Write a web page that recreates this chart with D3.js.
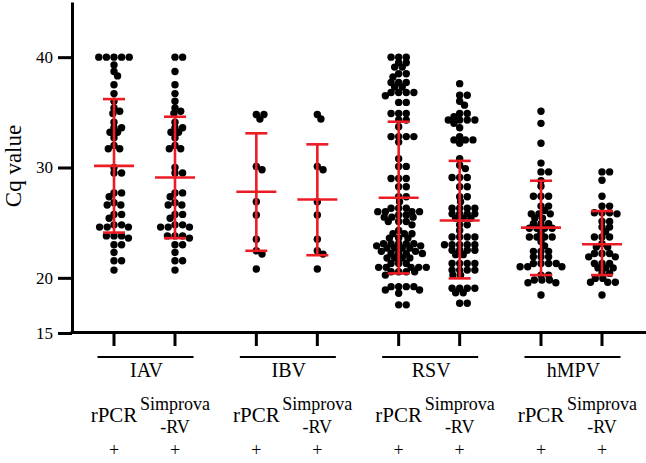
<!DOCTYPE html>
<html><head><meta charset="utf-8">
<script src="https://cdn.jsdelivr.net/npm/d3@7"></script>
<style>
html,body{margin:0;padding:0;background:#fff;}
svg{display:block;}
text{font-family:"Liberation Serif","Times New Roman",Times,serif;fill:#000;}
</style></head>
<body><svg id="chart" width="646" height="463"></svg>
<script>
// ---------- data ----------
const groups = ["IAV", "IBV", "RSV", "hMPV"];
const methods = ["rPCR", "Simprova-RV"];
const yTicks = [15, 20, 30, 40];

const iavRPCR = [40,40,40,40,40,39.3,38.7,38.3,37.5,36.7,36.0,35.4,35.1,34.9,34.1,33.6,33.6,33.2,33.2,32.7,32.0,31.7,31.7,30.0,29.5,29.5,27.7,27.7,27.35,26.8,26.6,26.6,25.75,25.75,25.4,24.8,24.8,24.6,24.6,24.6,23.8,23.8,23.8,23.6,23.0,23.0,22.3,21.55,21.55,20.7];
const iavSimprova = [40,40,38.7,37.5,36.7,36.0,35.4,35.1,34.9,34.1,33.6,33.6,33.2,33.2,32.7,32.0,31.7,31.7,30.0,29.5,29.5,27.7,27.7,27.35,26.8,26.6,26.6,25.75,25.75,25.4,24.8,24.8,24.6,24.6,24.6,23.8,23.8,23.8,23.6,23.0,23.0,22.3,21.55,21.55,20.7];
const ibvRPCR = [34.8,34.8,34.4,30.1,29.8,26.9,25.7,23.5,22.45,22.15,20.8];
const ibvSimprova = [34.8,34.4,30.1,29.8,26.9,25.7,23.5,22.45,22.15,20.8];
const rsvRPCR = [40,40,40,39.5,39.5,39.1,39.1,38.5,38.5,38.2,37.7,37.7,37.7,37.3,37.3,36.8,36.8,36.8,36.8,36.5,35.9,35.9,34.9,34.9,34.9,34.3,34.3,33.7,32.8,32.8,32.8,32.8,32.3,30.8,30.1,30.1,29.0,29.0,29.0,28.25,28.25,27.35,27.35,26.9,
  26.3,26.3,26.3,26.0,26.0,26.0,26.0,25.7,25.7,25.5,25.5,25.5,25.1,25.1,25.1,24.8,24.3,24.0,24.0,24.0,23.6,23.6,23.6,23.1,23.1,23.1,23.1,23.1,22.9,22.9,22.7,22.7,22.7,22.7,22.4,22.4,22.2,22.2,22.2,22.2,21.8,21.8,21.8,21.8,21.3,21.3,21.3,20.95,20.95,20.95,20.95,20.95,20.55,20.55,20.55,20.55,20.25,19.2,19.2,19.2,19.2,18.9,18.9,18.6,17.55,17.55];
const rsvSimprova = [37.6,36.55,36.55,36.0,35.65,34.9,34.9,34.6,34.3,34.3,34.3,34.3,34.0,33.6,32.8,32.5,32.5,32.5,32.2,30.8,30.2,29.9,29.1,29.1,29.1,28.25,28.25,27.35,27.35,26.9,26.3,26.3,26.3,26.3,25.8,25.8,25.8,25.8,25.4,25.4,25.4,24.8,24.8,24.3,23.7,23.7,23.7,23.7,23.0,23.0,23.0,23.0,23.0,22.5,22.5,22.5,22.5,22.1,22.1,21.3,21.3,21.3,21.3,20.7,20.7,20.7,20.7,20.25,20.25,19.05,19.05,19.05,19.05,18.65,18.65,17.7,17.7];
const hmpvRPCR = [35.1,34.0,32.2,30.4,29.6,29.6,28.8,28.3,27.4,27.4,27.4,26.5,26.5,26.1,25.8,25.8,25.8,25.4,25.4,24.9,24.9,24.9,24.5,24.5,24.5,24.5,24.1,23.7,23.7,23.7,23.7,23.3,22.9,22.4,22.4,22.4,21.9,21.9,21.9,21.3,21.3,21.3,21.3,21.0,21.0,21.0,20.25,20.25,19.8,19.8,19.8,19.55,19.55,18.45];
const hmpvSimprova = [29.6,29.6,28.85,27.4,26.5,26.5,25.9,25.9,25.9,25.8,25.1,25.1,24.6,24.6,24.2,23.7,23.7,23.7,23.1,22.8,22.8,22.2,22.2,22.2,21.9,21.9,21.3,21.3,21.3,20.9,20.9,20.9,20.4,20.4,19.95,19.95,19.6,19.6,19.6,18.45];

// mean and SD bar ends as drawn
const meanValues = [30.15, 29.1, 27.8, 27.1, 27.26, 25.2, 24.55, 23.05];
const sdUpper    = [36.2, 34.6, 33.1, 32.1, 34.15, 30.6, 28.8, 26.05];
const sdLower    = [24.1, 23.6, 22.45, 22.05, 20.4, 19.95, 20.25, 20.25];

const columnValues = [iavRPCR, iavSimprova, ibvRPCR, ibvSimprova, rsvRPCR, rsvSimprova, hmpvRPCR, hmpvSimprova];

// ---------- chart ----------
const svg = d3.select("#chart");
const y = d3.scaleLinear().domain([15, 45]).range([333, 2]);
const xGroup = d3.scalePoint().domain(groups).range([144.5, 571.5]);
const xMethod = d3.scalePoint().domain(methods).range([-30.5, 30.5]);

const columns = [];
groups.forEach(g => methods.forEach(m => columns.push({g, m, x: xGroup(g) + xMethod(m)})));
columns.forEach((c, i) => {
  c.values = columnValues[i];
  c.mean = meanValues[i]; c.hi = sdUpper[i]; c.lo = sdLower[i];
});

const R = 3.7, DX = 7.6, DY = 5.0;
function collides(cx, p, q) {
  const a = (cx - q.x) / DX, b = (p.y - q.y) / DY;
  return a * a + b * b < 0.999;
}
function swarm(values) {
  const pts = values.map(v => ({v, y: y(v)})).sort((a, b) => a.y - b.y);
  const placed = [];
  pts.forEach(p => {
    const cands = [0];
    placed.forEach(q => {
      const dy = Math.abs(p.y - q.y);
      if (dy < DY) { const dx = DX * Math.sqrt(1 - (dy / DY) * (dy / DY)); cands.push(q.x + dx, q.x - dx); }
    });
    cands.sort((a, b) => Math.abs(a) - Math.abs(b) || b - a);
    for (const cx of cands) {
      if (!placed.some(q => collides(cx, p, q))) { p.x = cx; break; }
    }
    placed.push(p);
  });
  return placed;
}

// dots
columns.forEach(c => {
  const pts = swarm(c.values);
  svg.append("g").selectAll("circle").data(pts).join("circle")
    .attr("cx", d => c.x + d.x).attr("cy", d => d.y).attr("r", R).attr("fill", "#000");
});

// error bars
const red = "#ec1c24";
const eb = svg.append("g").attr("stroke", red).attr("stroke-width", 2.6).attr("fill", "none");
columns.forEach(c => {
  eb.append("line").attr("x1", c.x).attr("x2", c.x).attr("y1", y(c.hi)).attr("y2", y(c.lo));
  eb.append("line").attr("x1", c.x - 20).attr("x2", c.x + 20).attr("y1", y(c.mean)).attr("y2", y(c.mean));
  eb.append("line").attr("x1", c.x - 11).attr("x2", c.x + 11).attr("y1", y(c.hi)).attr("y2", y(c.hi));
  eb.append("line").attr("x1", c.x - 11).attr("x2", c.x + 11).attr("y1", y(c.lo)).attr("y2", y(c.lo));
});

// y axis
const yAxis = svg.append("g").attr("transform", "translate(72,0)")
  .call(d3.axisLeft(y).tickValues(yTicks).tickSize(14).tickSizeOuter(0).tickPadding(5).tickFormat(d3.format("d")));
yAxis.select(".domain").attr("stroke-width", 3);
yAxis.selectAll(".tick line").attr("stroke-width", 3);
yAxis.selectAll(".tick text").attr("fill", "#000").style("font-family", '"Liberation Serif","Times New Roman",serif').style("font-size", "17px");

svg.append("text").attr("transform", "translate(21,166) rotate(-90)").attr("text-anchor", "middle")
  .attr("fill", "#000").style("font-size", "23px").text("Cq value");

// x axis line
svg.append("line").attr("x1", 70.5).attr("x2", 646).attr("y1", 332.5).attr("y2", 332.5)
  .attr("stroke", "#000").attr("stroke-width", 3);
// x ticks
svg.append("g").selectAll("line").data(columns).join("line")
  .attr("x1", d => d.x).attr("x2", d => d.x).attr("y1", 332).attr("y2", 346)
  .attr("stroke", "#000").attr("stroke-width", 3);

// group lines and labels
const gl = svg.append("g");
groups.forEach(g => {
  const cx = xGroup(g);
  gl.append("line").attr("x1", cx - 47).attr("x2", cx + 49).attr("y1", 357).attr("y2", 357)
    .attr("stroke", "#000").attr("stroke-width", 2);
  gl.append("text").attr("x", cx + 2).attr("y", 377).attr("text-anchor", "middle").attr("fill", "#000")
    .style("font-size", "20px").text(g);
});

// method labels
columns.forEach(c => {
  if (c.m === "rPCR") {
    svg.append("text").attr("x", c.x).attr("y", 422).attr("text-anchor", "middle").attr("fill", "#000").style("font-size", "21px").text("rPCR");
  } else {
    svg.append("text").attr("x", c.x).attr("y", 410).attr("text-anchor", "middle").attr("fill", "#000").style("font-size", "18px").text("Simprova");
    svg.append("text").attr("x", c.x).attr("y", 433).attr("text-anchor", "middle").attr("fill", "#000").style("font-size", "18px").text("-RV");
  }
  svg.append("text").attr("x", c.x).attr("y", 456).attr("text-anchor", "middle").attr("fill", "#000").style("font-size", "18px").text("+");
});
</script></body></html>
